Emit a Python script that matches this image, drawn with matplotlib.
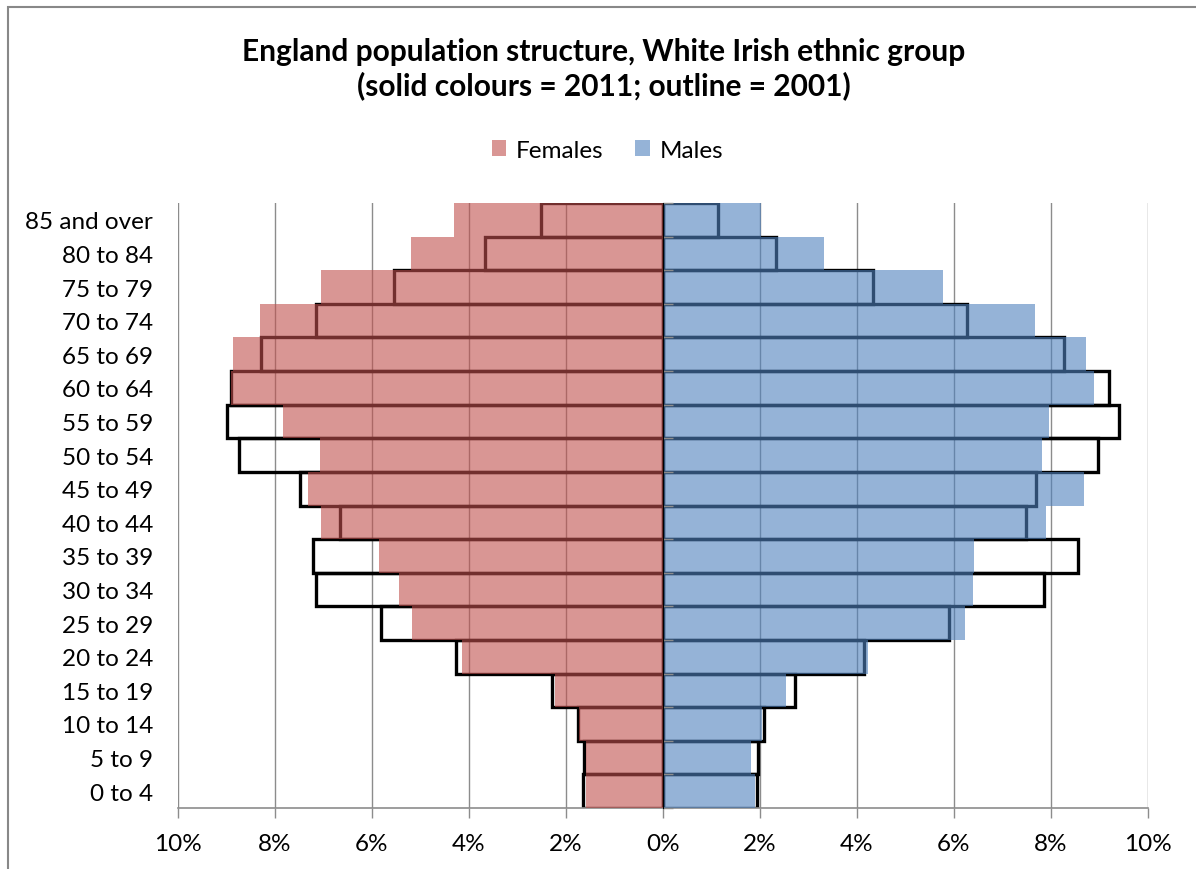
import matplotlib
matplotlib.use("Agg")
import matplotlib.pyplot as plt
from matplotlib.patches import Patch, Rectangle

plt.rcParams['font.family'] = ['Lato', 'DejaVu Sans']

# age bands, bottom to top
age_groups = ['0 to 4', '5 to 9', '10 to 14', '15 to 19', '20 to 24', '25 to 29',
              '30 to 34', '35 to 39', '40 to 44', '45 to 49', '50 to 54', '55 to 59',
              '60 to 64', '65 to 69', '70 to 74', '75 to 79', '80 to 84', '85 and over']

# percent of the group's population in each band
females_2011 = [1.58, 1.59, 1.74, 2.22, 4.14, 5.17, 5.44, 5.86, 7.05, 7.31,
                7.08, 7.84, 8.90, 8.87, 8.30, 7.05, 5.20, 4.30]
males_2011 = [1.89, 1.81, 2.04, 2.54, 4.23, 6.23, 6.40, 6.42, 7.90, 8.68,
              7.82, 7.96, 8.88, 8.72, 7.66, 5.77, 3.31, 2.02]
females_2001 = [1.64, 1.62, 1.75, 2.28, 4.26, 5.82, 7.15, 7.22, 6.65, 7.48,
                8.75, 9.00, 8.90, 8.28, 7.15, 5.55, 3.66, 2.51]
males_2001 = [1.94, 1.96, 2.09, 2.73, 4.14, 5.90, 7.85, 8.56, 7.49, 7.70,
              8.97, 9.41, 9.20, 8.27, 6.27, 4.34, 2.32, 1.13]

x_ticks = [-10, -8, -6, -4, -2, 0, 2, 4, 6, 8, 10]

fem_color = '#C0504D'
male_color = '#4F81BD'
grid_color = '#8C8C8C'

fig = plt.figure(figsize=(11.96, 8.70), dpi=100)
ax = fig.add_axes([178 / 1196, 1 - 809 / 870, (1148 - 178) / 1196, (809 - 204) / 870])

pos = list(range(len(age_groups)))

# 2001 as black outlines underneath
ax.barh(pos, [-v for v in females_2001], height=1.0, fill=False,
        edgecolor='black', linewidth=2.4, zorder=2)
ax.barh(pos, males_2001, height=1.0, fill=False,
        edgecolor='black', linewidth=2.4, zorder=2)

# 2011 as translucent solid bars on top
ax.barh(pos, [-v for v in females_2011], height=1.0, color=fem_color,
        alpha=0.6, linewidth=0, zorder=3)
ax.barh(pos, males_2011, height=1.0, color=male_color,
        alpha=0.6, linewidth=0, zorder=3)

ax.set_xlim(-10, 10)
ax.set_ylim(-0.5, len(age_groups) - 0.5)

ax.set_xticks(x_ticks)
ax.set_xticklabels([f'{abs(t)}%' for t in x_ticks])
ax.tick_params(axis='x', direction='out', length=7, width=1, color=grid_color,
               labelsize=17.5, pad=11, labelcolor='black')
ax.grid(axis='x', color=grid_color, linewidth=1.0, zorder=0)
ax.set_axisbelow(True)

ax.set_yticks(pos)
ax.set_yticklabels(age_groups)
ax.tick_params(axis='y', length=0, labelsize=17.5, pad=18, labelcolor='black')

for side in ['top', 'right', 'left']:
    ax.spines[side].set_visible(False)
ax.spines['bottom'].set_color(grid_color)
ax.spines['bottom'].set_linewidth(1.2)

# vertical category axis at 0% with ticks between bands
mid = ax.secondary_yaxis(0.5)
mid.set_yticks([p - 0.5 for p in pos] + [pos[-1] + 0.5])
mid.set_yticklabels([])
mid.tick_params(axis='y', direction='out', length=7, width=1, color=grid_color)
mid.spines['left'].set_color(grid_color)
mid.spines['left'].set_linewidth(1.2)
mid.set_zorder(4)

fig.text(0.505, 1 - 69 / 870, 'England population structure, White Irish ethnic group\n'
         '(solid colours = 2011; outline = 2001)',
         ha='center', va='center', fontsize=21.5, fontweight='bold', linespacing=1.25)

handles = [Patch(facecolor=fem_color, alpha=0.6, label='Females'),
           Patch(facecolor=male_color, alpha=0.6, label='Males')]
fig.legend(handles=handles, loc='center', bbox_to_anchor=(0.508, 1 - 151 / 870),
           ncol=2, frameon=False, fontsize=17.5, handlelength=0.6, handleheight=0.6,
           handletextpad=0.4, columnspacing=1.3)

# chart border
fig.patches.append(Rectangle((8 / 1196, -0.1), 1.2, 1.1 - 8 / 870, fill=False,
                             edgecolor='#888888', linewidth=1.5,
                             transform=fig.transFigure, figure=fig))

fig.savefig('out.png', dpi=100)
